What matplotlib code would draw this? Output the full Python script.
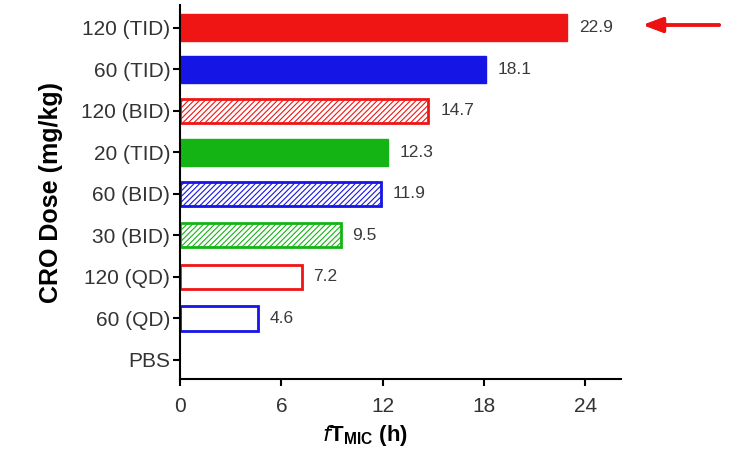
import matplotlib.pyplot as plt

# doses, bottom to top
labels = ['PBS', '60 (QD)', '120 (QD)', '30 (BID)', '60 (BID)', '20 (TID)', '120 (BID)', '60 (TID)', '120 (TID)']
values = [0, 4.6, 7.2, 9.5, 11.9, 12.3, 14.7, 18.1, 22.9]
colors = ['white', '#1515e6', '#f01515', '#14b414', '#1515e6', '#14b414', '#f01515', '#1515e6', '#f01515']
styles = ['none', 'open', 'open', 'hatch', 'hatch', 'solid', 'hatch', 'solid', 'solid']

plt.rcParams['font.family'] = ['Liberation Sans', 'DejaVu Sans']
plt.rcParams['hatch.linewidth'] = 0.8

fig = plt.figure(figsize=(7.3, 4.54), dpi=100)
ax = fig.add_axes([0.2466, 0.165, 0.604, 0.824])

for i, (v, c, s) in enumerate(zip(values, colors, styles)):
    if s == 'none':
        continue
    if s == 'solid':
        ax.barh(i, v, height=0.65, color=c, edgecolor=c, linewidth=1)
    elif s == 'open':
        ax.barh(i, v, height=0.58, facecolor='white', edgecolor=c, linewidth=2)
    else:
        ax.barh(i, v, height=0.58, facecolor='white', edgecolor=c, linewidth=2, hatch='//////')
    ax.text(v + 0.7, i, f'{v}', va='center', ha='left', fontsize=12.5, color='#3a3a3a')

ax.set_yticks(range(len(labels)))
ax.set_yticklabels(labels, fontsize=15, color='#333333')
ax.set_xticks([0, 6, 12, 18, 24])
ax.tick_params(axis='x', labelsize=15, labelcolor='#333333', length=5, width=1.5, pad=8)
ax.tick_params(axis='y', length=5, width=1.5, pad=2)
ax.set_xlim(0, 26.1)
ax.set_ylim(-0.46, 8.55)
for sp in ['top', 'right']:
    ax.spines[sp].set_visible(False)
for sp in ['left', 'bottom']:
    ax.spines[sp].set_linewidth(1.5)

ax.set_ylabel('CRO Dose (mg/kg)', fontsize=18, fontweight='bold', labelpad=13)
ax.set_xlabel(r'$\mathit{f}$T$_{\mathregular{MIC}}$ (h)', fontsize=16, fontweight='bold')
ax.xaxis.set_label_coords(0.42, -0.118)

# arrow pointing at the top bar
fig.add_artist(plt.annotate('', xy=(640 / 730, 1 - 25 / 454), xytext=(722 / 730, 1 - 25 / 454),
                            xycoords='figure fraction',
                            arrowprops=dict(arrowstyle='-|>,head_length=1.2,head_width=0.45', color='#ee1111', lw=2.5)))

fig.savefig('out.png', dpi=100)
